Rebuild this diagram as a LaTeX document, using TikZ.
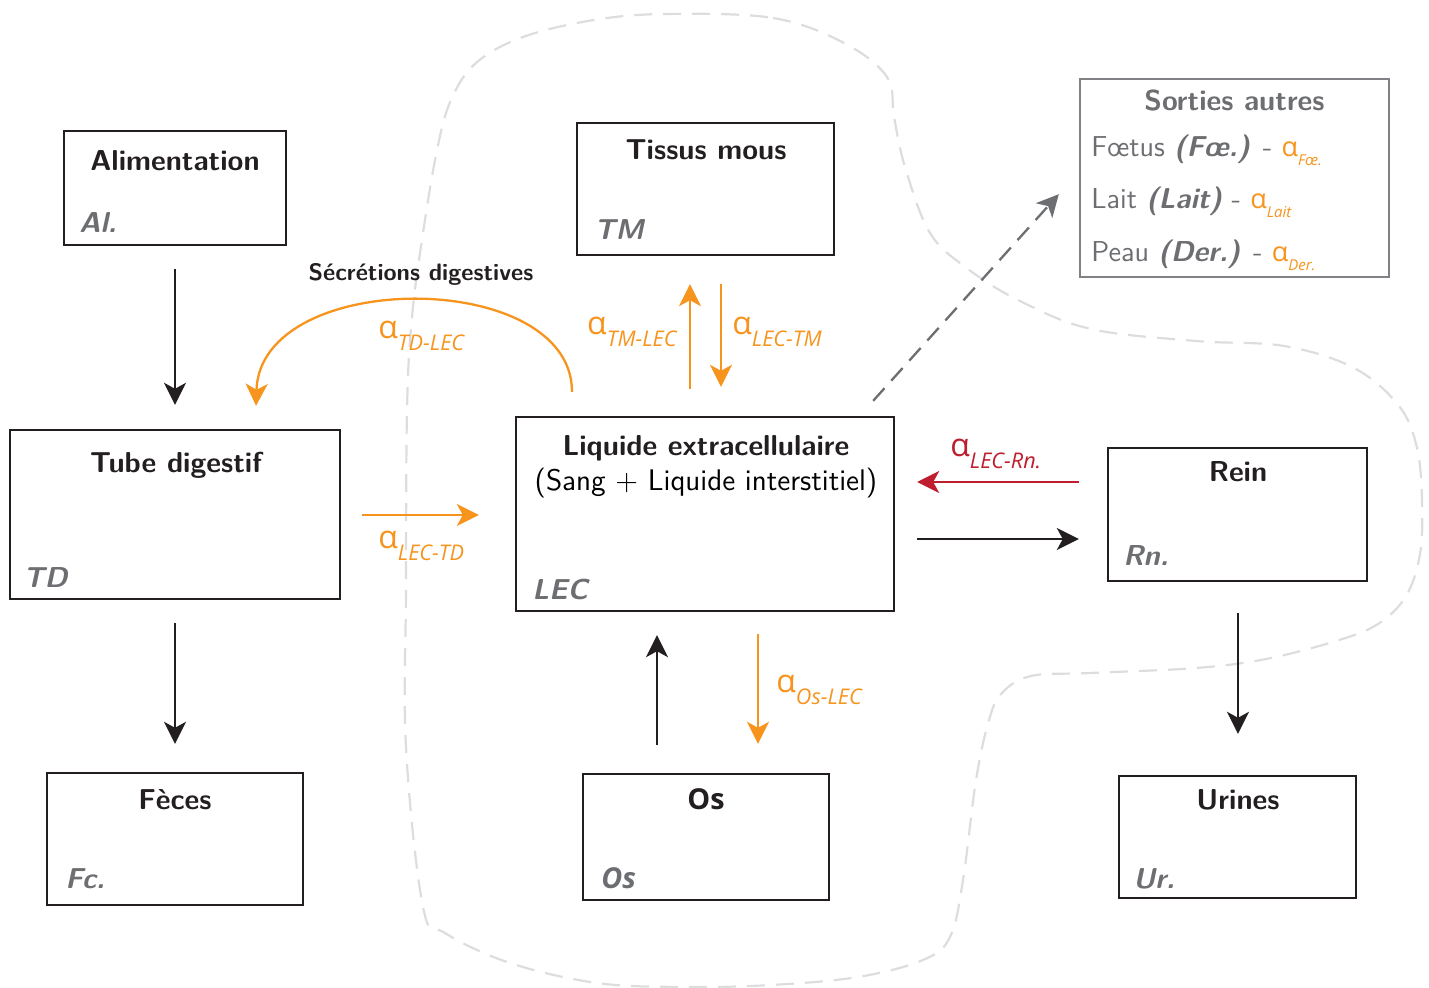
\documentclass[tikz,border=0pt]{standalone}
\usepackage{fontspec}
\newfontfamily\osf{Open Sans}
\usetikzlibrary{arrows.meta,calc}
\definecolor{orng}{HTML}{F7941D}
\definecolor{rred}{HTML}{BE1E2D}
\definecolor{dark}{HTML}{231F20}
\definecolor{gtext}{HTML}{6D6E71}
\definecolor{gborder}{HTML}{808285}
\definecolor{blobc}{HTML}{DCDDDE}
\newcommand\alab[1]{{\osf{\fontsize{16}{19}\selectfont α}\raisebox{-6pt}{\fontsize{10.8}{13}\selectfont\itshape #1}}}
\newcommand\salp[1]{{\color{orng}\osf{\fontsize{13.5}{16}\selectfont α}\raisebox{-4.5pt}{\fontsize{7.5}{9}\selectfont\itshape #1}}}
\begin{document}
\begin{tikzpicture}[x=0.5pt,y=-0.5pt,
  box/.style={draw=dark, line width=1.2pt, fill=white, inner sep=0pt},
  gbox/.style={draw=gborder, line width=1.2pt, fill=white, inner sep=0pt},
  ttl/.style={font=\sffamily\bfseries\fontsize{14.4}{17}\selectfont, text=dark, inner sep=0pt, anchor=base},
  lab/.style={font=\sffamily\bfseries\itshape\fontsize{14.4}{17}\selectfont, text=gtext, inner sep=0pt, anchor=base west},
  txt/.style={font=\sffamily\fontsize{14.4}{17}\selectfont, inner sep=0pt},
  alpha/.style={inner sep=0pt},
  arr/.style={line width=1.15pt, -{Stealth[length=11pt,width=11pt,inset=3pt]}},
  blob/.style={draw=blobc, line width=1.1pt, dash pattern=on 9pt off 5.5pt}
]
\useasboundingbox (0,0) rectangle (1429,988);

% background dashed region
\draw[blob] plot[smooth cycle, tension=0.6] coordinates {
(666,14) (773,18) (844,43) (887,77) (894,117) (905,167) (930,233) (968,269)
(1020,301) (1091,329) (1196,341) (1284,346) (1354,368) (1399,406) (1417,448)
(1422,501) (1420,554) (1406,596) (1378,624) (1336,641) (1266,659) (1196,668)
(1091,673) (1031,676) (1002,693) (989,720) (976,780) (963,880) (950,937)
(923,960) (858,977) (771,985) (684,987) (597,983) (510,963) (445,933)
(423,907) (406,747) (406,587) (407,410) (412,317) (423,233) (437,150)
(451,100) (476,63) (523,37) (594,20)};

% boxes
\node[box, minimum width=111pt, minimum height=57pt] (al) at (175,188) {};
\node[box, minimum width=128.5pt, minimum height=66pt] (tm) at (705.5,189) {};
\node[gbox, minimum width=154.5pt, minimum height=99pt] (so) at (1234.5,178) {};
\node[box, minimum width=165pt, minimum height=84.5pt] (td) at (175,514.5) {};
\node[box, minimum width=189pt, minimum height=97pt] (lec) at (705,514) {};
\node[box, minimum width=129.5pt, minimum height=66.5pt] (rn) at (1237.5,514.5) {};
\node[box, minimum width=128pt, minimum height=66pt] (fc) at (175,839) {};
\node[box, minimum width=123pt, minimum height=63pt] (os) at (706,837) {};
\node[box, minimum width=118.5pt, minimum height=61pt] (ur) at (1237.5,837) {};

% titles
\node[ttl] (alT) at (175,171) {Alimentation};
\node[ttl] (tmT) at (706,160) {Tissus mous};
\node[ttl, text=gtext] (soT) at (1234.5,111) {Sorties autres};
\node[ttl] (tdT) at (176,473) {Tube digestif};
\node[ttl] (lecT) at (706,456) {Liquide extracellulaire};
\node[txt, anchor=base, font=\sffamily\fontsize{14.9}{17}\selectfont] (lecS) at (706,491) {(Sang + Liquide interstitiel)};
\node[ttl] (rnT) at (1238,482) {Rein};
\node[ttl] (fcT) at (175,809) {Fèces};
\node[ttl, font=\osf\bfseries\fontsize{14.4}{17}\selectfont] (osT) at (706,809) {Os};
\node[ttl] (urT) at (1238,809) {Urines};

% short labels
\node[lab] (alL) at (79,233) {Al.};
\node[lab] (tmL) at (594,240) {TM};
\node[lab] (tdL) at (23,588) {TD};
\node[lab] (lecL) at (532,599) {LEC};
\node[lab] (rnL) at (1123,566) {Rn.};
\node[lab] (fcL) at (65,888) {Fc.};
\node[lab, font=\osf\itshape\bfseries\fontsize{14.4}{17}\selectfont] (osL) at (601,888) {Os};
\node[lab] (urL) at (1133,888) {Ur.};

% Sorties autres content
\node[txt, text=gtext, anchor=base west] (so1) at (1091,157) {Fœtus \textbf{\textit{(Fœ.)}} - \salp{Fœ.}};
\node[txt, text=gtext, anchor=base west] (so2) at (1091,209) {Lait \textbf{\textit{(Lait)}} - \salp{Lait}};
\node[txt, text=gtext, anchor=base west] (so3) at (1091,262) {Peau \textbf{\textit{(Der.)}} - \salp{Der.}};

% arrows
\draw[arr, dark] ($(al.south)+(0,23)$) -- ($(td.north)+(0,-24)$);
\draw[arr, dark] ($(td.south)+(0,23)$) -- ($(fc.north)+(0,-28)$);
\draw[arr, orng] ($(td.east)+(21,0.5)$) -- ($(lec.west)+(-36,1)$);
\draw[arr, orng] ($(lec.north)+(-133,-24)$) .. controls ($(lec.north)+(-133,-148)$) and ($(td.north)+(85,-161)$) .. ($(td.north)+(81,-23)$);
\draw[arr, orng] ($(lec.north)+(-15,-27)$) -- ($(tm.south)+(-15.5,28)$);
\draw[arr, orng] ($(tm.south)+(15.5,28)$) -- ($(lec.north)+(16,-29)$);
\draw[arr, gtext, dash pattern=on 8.5pt off 5pt] ($(lec.north east)+(-22,-15)$) -- ($(so.south west)+(-20,-84)$);
\draw[arr, rred] ($(rn.west)+(-28,-32.5)$) -- ($(lec.east)+(22,-32)$);
\draw[arr, dark] ($(lec.east)+(22,25)$) -- ($(rn.west)+(-28,24.5)$);
\draw[arr, dark] ($(rn.south)+(0.5,31)$) -- ($(ur.north)+(0.5,-41)$);
\draw[arr, dark] ($(os.north)+(-49,-28)$) -- ($(lec.south)+(-48,23)$);
\draw[arr, orng] ($(lec.south)+(53,22)$) -- ($(os.north)+(52,-29)$);

% arrow labels
\node[font=\sffamily\bfseries\fontsize{11.9}{14}\selectfont, text=dark, inner sep=0pt, anchor=base] (sec) at (421,281) {Sécrétions digestives};
\node[alpha, text=orng, anchor=west] (aTD) at (378,336) {\alab{TD-LEC}};
\node[alpha, text=orng, anchor=west] (aLT) at (378,546) {\alab{LEC-TD}};
\node[alpha, text=orng, anchor=east] (aTM) at (677,332) {\alab{TM-LEC}};
\node[alpha, text=orng, anchor=west] (aLM) at (732,332) {\alab{LEC-TM}};
\node[alpha, text=rred, anchor=west] (aRn) at (950,454) {\alab{LEC-Rn.}};
\node[alpha, text=orng, anchor=west] (aOs) at (776,690) {\alab{Os-LEC}};
\end{tikzpicture}
\end{document}
